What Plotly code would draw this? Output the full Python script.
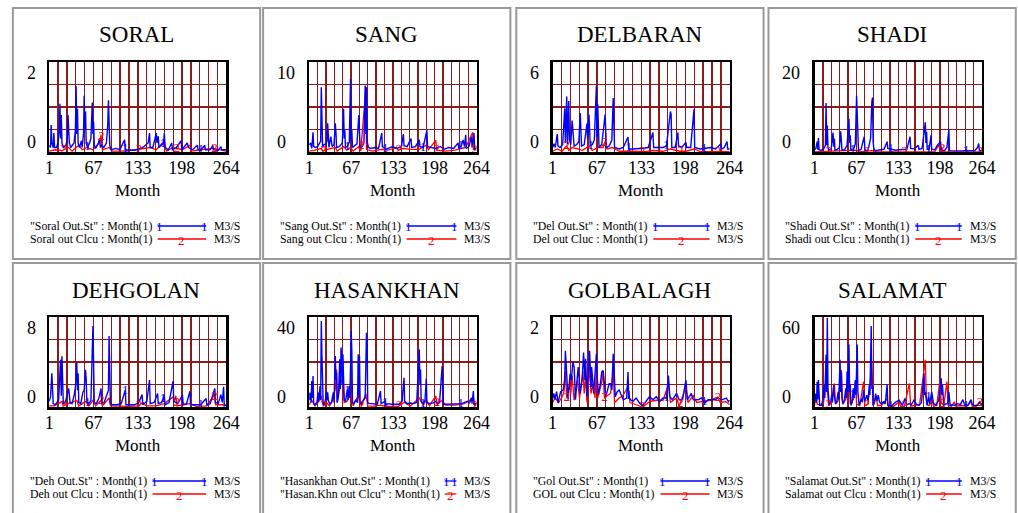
import numpy as np
import plotly.graph_objects as go

W, H = 1018, 513
FONT = "Liberation Serif"
BLUE = "#0000ff"
RED = "#ff0000"
GRID = "#8b1a1a"

# ---------------- data (month, value) ----------------
TITLES = ["SORAL", "SANG", "DELBARAN", "SHADI", "DEHGOLAN", "HASANKHAN", "GOLBALAGH", "SALAMAT"]
Y_MAX = [2, 10, 6, 20, 8, 40, 2, 60]
X_TICKS = [1, 67, 133, 198, 264]
UNITS = "M3/S"
LEGEND_OUT = ['"Soral Out.St" : Month(1)', '"Sang Out.St" : Month(1)', '"Del Out.St" : Month(1)',
              '"Shadi Out.St" : Month(1)', '"Deh Out.St" : Month(1)', '"Hasankhan Out.St" : Month(1)',
              '"Gol Out.St" : Month(1)', '"Salamat Out.St" : Month(1)']
LEGEND_CLC = ['Soral out Clcu : Month(1)', 'Sang out Clcu : Month(1)', 'Del out Cluc : Month(1)',
              'Shadi out Clcu : Month(1)', 'Deh out Clcu : Month(1)', '"Hasan.Khn out Clcu" : Month(1)',
              'GOL out Clcu : Month(1)', 'Salamat out Clcu : Month(1)']

SORAL_OUT = [(1,0.15),(3,0.1),(4,0.6),(5,0.2),(7,0.1),(8,0.42),(9,0.1),(12,0.1),(14,0.2),(16,0.45),(17,1.07),(18,0.3),(19,0.82),(20,0.2),(22,0.1),(26,0.15),(28,0.3),(29,0.82),(30,0.49),(31,0.2),(33,0.1),(38,0.2),(40,0.5),(41,1.47),(42,0.4),(43,0.96),(44,0.2),(46,0.1),(49,0.25),(50,0.1),(52,0.4),(53,1.25),(54,0.5),(55,0.9),(56,0.2),(58,0.1),(61,0.2),(63,0.3),(65,1.1),(66,0.4),(67,0.67),(68,0.15),(70,0.08),(74,0.2),(76,0.3),(77,0.1),(79,0.15),(82,0.1),(86,0.2),(88,0.6),(89,1.15),(90,0.4),(91,0.15),(93,0.05),(100,0.08),(106,0.05),(113,0.27),(114,0.05),(120,0.05),(127,0.04),(133,0.06),(140,0.1),(148,0.2),(150,0.42),(151,0.1),(155,0.1),(160,0.42),(161,0.2),(163,0.35),(164,0.1),(171,0.2),(172,0.42),(173,0.1),(178,0.05),(183,0.2),(184,0.05),(190,0.1),(197,0.25),(198,0.05),(206,0.2),(208,0.1),(214,0.05),(221,0.15),(222,0.05),(226,0.04),(232,0.15),(233,0.05),(240,0.05),(244,0.15),(245,0.05),(252,0.04),(256,0.12),(257,0.05),(264,0.05)]
SORAL_CLC = [(1,0.02),(10,0.05),(20,0.03),(30,0.1),(35,0.02),(45,0.15),(50,0.05),(57,0.1),(66,0.05),(76,0.2),(78,0.38),(80,0.05),(90,0.1),(95,0.02),(110,0.02),(130,0.05),(150,0.1),(160,0.05),(172,0.25),(175,0.02),(185,0.1),(199,0.05),(210,0.15),(212,0.02),(225,0.05),(245,0.08),(264,0.02)]

SANG_OUT = [(1,0.8),(3,1.0),(5,0.4),(7,2.2),(8,0.6),(11,0.5),(14,0.6),(19,1.2),(20,7.2),(21,3.9),(22,0.5),(24,0.8),(27,0.9),(29,1.2),(30,3.2),(31,1.9),(32,0.5),(35,1.7),(37,0.6),(40,0.8),(42,3.2),(43,2.2),(44,0.5),(48,0.6),(51,0.8),(53,1.0),(55,4.8),(56,1.5),(57,2.4),(58,0.5),(61,0.6),(64,1.1),(66,8.1),(67,1.2),(68,2.4),(69,0.5),(73,0.7),(76,0.9),(79,4.1),(80,2.4),(81,0.5),(84,0.6),(87,1.0),(89,7.4),(90,2.0),(91,7.2),(92,1.2),(94,0.5),(98,0.4),(104,0.5),(110,0.4),(115,2.1),(116,0.6),(121,0.3),(127,0.5),(132,0.6),(138,0.4),(146,0.6),(149,2.0),(150,0.7),(155,0.6),(161,1.5),(162,0.5),(168,0.6),(174,1.35),(175,0.6),(180,0.5),(186,2.4),(187,0.6),(193,0.5),(200,0.4),(207,0.6),(213,0.3),(220,0.5),(228,0.4),(235,1.0),(236,0.4),(240,0.7),(243,1.35),(245,0.6),(247,1.9),(248,0.4),(252,0.6),(256,1.7),(257,0.5),(260,2.1),(261,0.3),(264,0.4)]
SANG_CLC = [(1,0.1),(10,0.2),(20,0.4),(22,0.1),(30,0.3),(42,0.5),(45,0.1),(55,0.6),(60,0.2),(66,0.5),(70,0.1),(79,0.6),(82,0.1),(90,7.0),(91,0.3),(100,0.1),(115,0.3),(125,0.2),(138,0.5),(141,0.2),(149,0.4),(160,0.3),(174,0.3),(186,0.8),(188,0.2),(200,1.3),(201,0.2),(215,0.1),(230,0.2),(247,0.5),(258,2.2),(259,0.3),(264,0.2)]

DEL_OUT = [(1,0.3),(3,0.55),(5,0.3),(8,1.2),(9,0.4),(12,0.3),(16,0.5),(19,2.9),(20,0.6),(22,3.7),(23,0.5),(25,3.4),(26,0.8),(28,0.5),(30,2.1),(31,1.3),(33,0.4),(37,0.5),(40,0.7),(42,2.6),(43,1.4),(44,0.4),(48,0.5),(52,1.9),(53,0.9),(55,2.5),(56,1.5),(57,0.4),(60,0.5),(63,0.8),(66,4.4),(67,1.0),(68,3.2),(69,0.6),(70,0.3),(74,0.5),(79,2.5),(80,1.3),(81,0.3),(85,0.4),(89,0.8),(91,3.6),(92,0.9),(93,0.3),(100,0.2),(106,0.3),(113,1.0),(114,0.2),(120,0.2),(128,0.2),(135,0.25),(143,0.3),(150,1.3),(151,0.3),(158,0.3),(165,0.3),(170,0.4),(176,2.7),(177,2.5),(178,0.3),(183,0.3),(187,1.3),(188,0.4),(193,0.3),(199,0.65),(200,0.3),(206,0.3),(211,2.85),(212,0.3),(220,0.2),(228,0.25),(236,0.3),(243,0.2),(251,0.55),(252,0.2),(256,0.3),(260,0.7),(261,0.2),(264,0.2)]
DEL_CLC = [(1,0.05),(8,0.2),(15,0.05),(22,0.4),(25,0.1),(30,0.3),(40,0.2),(45,0.1),(55,0.4),(60,0.1),(68,0.3),(76,0.3),(79,0.7),(82,0.2),(90,0.3),(100,0.05),(120,0.05),(140,0.03),(150,0.1),(165,0.05),(176,0.2),(190,0.05),(199,0.05),(211,0.2),(220,0.03),(240,0.05),(258,0.05),(264,0.03)]

SHADI_OUT = [(1,0.5),(3,0.8),(5,2.3),(6,0.5),(7,3.1),(8,0.5),(11,0.4),(15,0.6),(18,1.5),(19,10.9),(20,1.5),(21,5.9),(22,1.0),(23,0.4),(27,0.6),(30,4.3),(31,1.2),(32,3.0),(33,0.4),(37,0.6),(40,1.0),(42,4.6),(43,2.6),(44,0.4),(48,0.5),(52,1.5),(55,7.4),(56,2.0),(57,3.7),(58,0.4),(62,0.5),(65,1.8),(67,12.5),(68,7.4),(69,0.8),(70,0.3),(74,0.6),(79,3.4),(80,0.8),(81,0.3),(85,0.4),(89,3.0),(91,11.2),(92,12.1),(93,2.3),(94,0.8),(96,0.3),(103,0.4),(110,0.6),(115,2.3),(116,0.8),(122,0.6),(128,0.4),(134,0.5),(140,0.5),(146,0.6),(151,3.4),(152,0.8),(158,0.7),(164,1.5),(165,0.6),(170,0.8),(175,6.6),(176,2.0),(177,4.5),(178,0.6),(181,0.5),(184,3.7),(185,0.6),(190,0.5),(194,1.5),(199,2.3),(200,0.4),(205,0.3),(209,1.0),(212,5.0),(213,0.3),(220,0.25),(230,0.25),(240,0.3),(247,0.3),(253,0.3),(257,1.0),(259,1.9),(260,0.3),(264,0.3)]
SHADI_CLC = [(1,0.05),(10,0.1),(20,0.2),(22,0.05),(30,0.2),(42,0.2),(55,0.3),(67,0.4),(70,0.05),(81,0.1),(91,0.3),(100,0.05),(120,0.05),(140,0.05),(160,0.05),(175,0.2),(190,0.1),(196,1.5),(199,0.3),(201,1.0),(203,0.05),(215,0.05),(240,0.05),(258,0.05),(264,0.05)]

DEH_OUT = [(1,0.5),(3,0.9),(5,3.0),(6,2.1),(7,0.3),(10,0.2),(15,0.6),(18,4.2),(19,1.0),(20,4.5),(21,1.0),(22,0.3),(25,0.4),(28,1.2),(30,1.65),(32,0.4),(35,0.3),(38,1.0),(40,1.8),(42,3.9),(43,1.5),(44,3.0),(45,0.4),(48,0.3),(51,1.3),(53,1.5),(55,3.3),(56,2.4),(57,0.4),(60,0.3),(63,0.6),(66,7.2),(67,4.0),(68,0.4),(71,0.3),(75,0.8),(78,1.65),(79,0.4),(82,0.3),(86,0.9),(89,1.5),(90,6.3),(91,3.1),(92,0.3),(95,0.2),(102,0.2),(108,0.3),(114,1.5),(115,0.2),(121,0.2),(128,0.2),(134,0.4),(139,1.1),(140,0.2),(146,0.5),(150,2.4),(151,0.3),(157,0.4),(162,1.2),(163,0.3),(168,0.4),(172,1.05),(173,0.2),(179,0.4),(185,2.3),(186,0.5),(192,0.3),(199,1.05),(200,0.2),(205,0.3),(210,1.4),(211,0.2),(218,0.2),(226,0.2),(234,0.75),(235,0.2),(240,0.3),(247,1.65),(248,0.4),(252,0.3),(256,1.1),(258,0.4),(260,1.8),(261,0.1),(264,0.2)]
DEH_CLC = [(1,0.1),(8,0.1),(15,0.3),(20,0.5),(22,0.1),(30,0.3),(42,0.6),(45,0.1),(55,0.5),(60,0.1),(66,0.6),(70,0.1),(78,0.6),(80,0.1),(90,0.8),(92,0.1),(105,0.05),(120,0.05),(134,0.1),(140,0.4),(145,0.1),(160,0.1),(172,0.3),(185,0.9),(187,0.5),(189,1.0),(191,0.1),(199,0.2),(210,0.3),(220,0.05),(235,0.1),(244,0.9),(246,1.2),(248,0.2),(258,0.2),(264,0.1)]

HASAN_OUT = [(1,3.0),(2,6.4),(4,2.0),(5,11.6),(6,4.0),(7,13.8),(8,1.5),(10,1.0),(13,2.0),(15,6.4),(16,2.5),(18,9.3),(19,3.0),(20,38.2),(21,22.7),(22,3.0),(23,1.0),(26,2.0),(28,7.1),(29,3.0),(30,6.5),(31,3.0),(33,1.5),(36,2.0),(39,6.5),(40,2.0),(42,22.7),(43,12.0),(44,15.3),(45,2.0),(47,5.0),(49,21.2),(50,8.0),(51,26.4),(52,22.7),(53,10.0),(54,23.4),(55,13.0),(56,3.0),(58,2.5),(61,7.9),(62,3.0),(64,9.3),(65,4.0),(67,33.8),(68,24.9),(69,2.0),(71,1.5),(74,3.0),(77,2.0),(78,23.4),(79,5.0),(80,22.7),(81,2.0),(83,1.5),(86,3.0),(89,4.0),(91,33.0),(92,28.6),(93,2.0),(95,1.5),(98,1.5),(103,1.5),(108,1.2),(113,7.1),(114,1.5),(120,2.5),(122,1.0),(125,1.5),(130,1.2),(136,1.2),(142,1.2),(147,2.5),(150,13.0),(151,2.5),(155,1.5),(160,1.8),(165,1.5),(170,2.0),(174,25.6),(175,10.0),(176,16.7),(177,2.5),(180,1.5),(183,3.0),(185,12.6),(186,2.0),(190,1.5),(196,1.8),(200,2.5),(203,1.5),(206,2.5),(210,18.2),(211,5.0),(212,1.2),(218,1.2),(225,1.2),(230,1.2),(236,1.5),(241,1.5),(246,2.2),(250,2.5),(253,1.8),(256,4.1),(257,1.5),(259,7.1),(260,1.2),(264,1.5)]
HASAN_CLC = [(1,1.0),(5,3.0),(10,0.5),(15,2.0),(20,5.0),(23,0.5),(28,2.0),(33,0.5),(38,3.0),(42,8.0),(44,16.7),(45,2.0),(50,10.0),(54,13.0),(56,2.0),(60,2.5),(67,6.0),(70,0.5),(78,5.0),(83,0.3),(90,6.0),(93,0.5),(100,0.3),(113,0.8),(120,0.3),(141,0.3),(150,2.0),(160,0.5),(174,4.0),(180,0.8),(185,3.0),(190,0.6),(200,4.9),(202,1.0),(210,3.0),(215,0.8),(230,0.8),(245,1.5),(259,4.0),(261,0.5),(264,0.8)]

GOL_OUT = [(1,0.2),(3,0.3),(4,0.16),(7,0.34),(9,0.09),(13,0.34),(17,0.38),(19,0.63),(20,1.25),(22,0.52),(24,0.16),(27,0.74),(29,0.6),(31,1.0),(33,0.89),(35,0.16),(37,0.63),(39,0.89),(40,0.7),(42,0.3),(45,0.63),(47,1.21),(49,0.6),(50,1.07),(52,0.23),(54,0.7),(56,1.25),(58,0.45),(59,0.89),(62,0.3),(64,0.67),(66,1.18),(67,0.74),(69,0.27),(72,0.52),(74,0.78),(76,0.81),(78,0.45),(80,0.23),(85,0.52),(87,0.52),(89,0.38),(91,1.18),(93,0.6),(94,0.23),(97,0.34),(100,0.38),(102,0.3),(106,0.16),(111,0.2),(113,0.78),(114,0.2),(120,0.12),(125,0.2),(130,0.09),(135,0.03),(140,0.12),(145,0.23),(150,0.16),(155,0.23),(160,0.12),(165,0.2),(170,0.2),(173,0.7),(175,0.23),(179,0.16),(185,0.3),(189,0.16),(194,0.16),(199,0.6),(201,0.16),(207,0.3),(210,0.16),(217,0.16),(222,0.2),(227,0.09),(232,0.16),(237,0.16),(242,0.16),(247,0.2),(252,0.16),(259,0.2),(262,0.12),(264,0.15)]
GOL_CLC = [(1,0.1),(5,0.2),(10,0.1),(16,0.25),(18,0.35),(20,0.8),(22,0.2),(26,0.5),(28,0.3),(30,0.7),(33,0.15),(38,0.6),(41,0.2),(46,0.8),(48,0.3),(50,0.7),(52,0.1),(56,0.9),(58,0.3),(61,0.5),(64,0.2),(66,0.85),(68,0.2),(74,0.55),(76,0.78),(78,0.2),(82,0.25),(87,0.3),(91,0.8),(93,0.1),(100,0.2),(105,0.25),(113,0.45),(116,0.1),(125,0.05),(135,0.0),(145,0.12),(155,0.15),(165,0.15),(173,0.5),(176,0.1),(185,0.2),(189,0.02),(199,0.45),(202,0.1),(210,0.25),(215,0.1),(225,0.12),(235,0.15),(246,0.22),(250,0.1),(258,0.12),(264,0.05)]

SALAMAT_OUT = [(1,3.0),(2,9.0),(4,3.0),(5,16.9),(6,5.0),(7,18.0),(9,1.1),(12,1.1),(14,5.0),(16,14.6),(17,6.0),(19,34.8),(20,10.0),(21,59.5),(22,12.4),(24,1.1),(26,3.0),(28,7.9),(29,3.0),(31,14.6),(32,7.9),(34,2.0),(36,4.0),(38,10.1),(39,5.0),(41,31.5),(42,10.0),(43,23.6),(44,5.6),(46,2.0),(48,5.0),(50,12.4),(51,6.0),(52,23.6),(53,10.0),(55,41.6),(56,10.0),(57,14.6),(58,1.1),(60,3.0),(62,12.4),(63,6.0),(65,18.0),(66,8.0),(68,41.6),(69,10.1),(71,1.1),(73,3.0),(75,5.6),(76,3.0),(78,11.2),(80,3.4),(83,7.9),(85,4.0),(87,14.6),(88,8.0),(90,54.0),(91,12.0),(92,14.6),(93,1.1),(95,3.0),(97,9.0),(99,4.0),(101,7.9),(103,3.4),(106,2.0),(109,3.4),(112,2.0),(115,15.0),(116,1.1),(121,0.5),(125,2.0),(129,3.4),(134,4.5),(139,1.1),(143,5.6),(146,1.5),(150,2.2),(153,1.5),(157,4.5),(161,2.0),(165,1.1),(169,3.0),(173,22.5),(174,8.0),(175,10.1),(178,1.1),(180,6.7),(182,2.0),(185,10.1),(188,2.2),(192,1.5),(196,4.5),(200,19.1),(201,8.0),(202,14.6),(204,1.1),(207,2.0),(210,2.2),(212,10.1),(214,1.1),(218,1.5),(221,1.1),(226,2.2),(230,1.5),(234,4.9),(237,1.1),(242,1.1),(247,4.9),(249,1.5),(252,1.1),(257,1.1),(261,3.4),(264,1.5)]
SALAMAT_CLC = [(1,1.0),(3,7.9),(5,2.0),(10,1.0),(15,3.0),(19,14.6),(21,12.0),(23,1.0),(27,3.0),(32,15.7),(34,2.0),(38,4.0),(43,24.7),(45,2.0),(50,5.0),(55,23.6),(57,2.0),(62,5.0),(65,16.9),(67,2.0),(72,1.0),(78,16.9),(80,1.0),(85,2.0),(91,29.2),(93,1.0),(98,6.7),(100,1.0),(106,1.0),(115,5.6),(117,0.5),(125,0.5),(134,3.4),(136,0.5),(142,0.5),(150,15.7),(152,0.5),(160,1.0),(166,1.5),(175,31.5),(177,2.0),(181,1.0),(186,4.5),(188,0.5),(193,1.0),(198,18.0),(200,3.0),(204,1.0),(209,16.9),(211,1.0),(216,0.5),(221,3.4),(223,0.5),(232,1.0),(240,0.5),(247,3.4),(249,0.5),(255,0.5),(260,3.4),(264,0.5)]

SERIES_OUT = [SORAL_OUT, SANG_OUT, DEL_OUT, SHADI_OUT, DEH_OUT, HASAN_OUT, GOL_OUT, SALAMAT_OUT]
SERIES_CLC = [SORAL_CLC, SANG_CLC, DEL_CLC, SHADI_CLC, DEH_CLC, HASAN_CLC, GOL_CLC, SALAMAT_CLC]

# ---------------- layout helpers ----------------
COL_LEFT = [8, 263, 521, 778]
ROW_TOP = [8, 263]
PANEL_W, PANEL_H = 252, 251
LEG_SIZE = 11.8

# Times / Liberation Serif advance widths (1/1000 em) for legend text width estimates
TW = {' ': 250, '"': 408, '(': 333, ')': 333, '.': 250, ':': 278, '1': 500, '3': 500, '/': 278,
      'A': 722, 'C': 667, 'D': 722, 'G': 722, 'H': 722, 'K': 722, 'L': 611, 'M': 889, 'O': 722, 'S': 556,
      'a': 444, 'c': 444, 'd': 500, 'e': 444, 'h': 500, 'i': 278, 'k': 500, 'l': 278, 'm': 778,
      'n': 500, 'o': 500, 'r': 333, 's': 389, 't': 278, 'u': 500}


def text_w(s, size):
    return sum(TW.get(c, 500) for c in s) * size / 1000.0


def px(x):
    return x / W


def py(y):
    return 1 - y / H


fig = go.Figure()
annotations = []
shapes = []
layout_axes = {}

for i in range(8):
    r, c = divmod(i, 4)
    L0, T0 = COL_LEFT[c], ROW_TOP[r]
    ymax = Y_MAX[i]
    lo = 37 if len(str(ymax)) == 1 else 47
    pl, pr = L0 + lo, L0 + 217.5
    pt, pb = T0 + 54, T0 + 144
    pw = pr - pl
    n = "" if i == 0 else str(i + 1)

    layout_axes["xaxis" + n] = dict(
        domain=[px(pl), px(pr)], range=[1, 264], anchor="y" + n,
        tickmode="array", tickvals=X_TICKS, ticktext=[str(t) for t in X_TICKS],
        ticks="", ticklabelstandoff=-2,
        tickfont=dict(family=FONT, size=18, color="black"),
        showgrid=True, gridcolor=GRID, gridwidth=1.3,
        minor=dict(tickmode="linear", tick0=1, dtick=263 / 20, showgrid=True,
                   gridcolor=GRID, gridwidth=1.3, ticks=""),
        showline=True, mirror=True, linecolor="black", linewidth=2.5,
        zeroline=False, fixedrange=True)
    layout_axes["yaxis" + n] = dict(
        domain=[py(pb), py(pt)], range=[0, ymax], anchor="x" + n,
        tickmode="linear", tick0=0, dtick=ymax / 4, showticklabels=False, ticks="",
        showgrid=True, gridcolor=GRID, gridwidth=1.3,
        showline=True, mirror=True, linecolor="black", linewidth=2.5,
        zeroline=False, fixedrange=True)

    bx = [m for m, v in SERIES_OUT[i]]
    by = [v for m, v in SERIES_OUT[i]]
    rx = [m for m, v in SERIES_CLC[i]]
    ry = [v for m, v in SERIES_CLC[i]]
    # red (calculated) underneath, blue (observed) on top
    fig.add_trace(go.Scatter(x=rx, y=ry, mode="lines", line=dict(color=RED, width=1.3),
                             xaxis="x" + n, yaxis="y" + n, hoverinfo="skip", showlegend=False))
    fig.add_trace(go.Scatter(x=bx, y=by, mode="lines", line=dict(color=BLUE, width=1.4),
                             xaxis="x" + n, yaxis="y" + n, hoverinfo="skip", showlegend=False))

    # Vensim-style line number markers, spaced along the plot width
    mb = [1 + (39 + 38.5 * k) / pw * 263 for k in range(4)]
    mr = [1 + (14.5 + 38.5 * k) / pw * 263 for k in range(5)]
    fig.add_trace(go.Scatter(x=mb, y=np.interp(mb, bx, by), mode="text", text=["1"] * len(mb),
                             textfont=dict(family=FONT, size=13, color=BLUE), cliponaxis=False,
                             xaxis="x" + n, yaxis="y" + n, hoverinfo="skip", showlegend=False))
    fig.add_trace(go.Scatter(x=mr, y=np.interp(mr, rx, ry), mode="text", text=["2"] * len(mr),
                             textfont=dict(family=FONT, size=13, color=RED), cliponaxis=False,
                             xaxis="x" + n, yaxis="y" + n, hoverinfo="skip", showlegend=False))

    # panel frame
    shapes.append(dict(type="rect", xref="paper", yref="paper",
                       x0=px(L0), x1=px(L0 + PANEL_W), y0=py(T0 + PANEL_H), y1=py(T0),
                       line=dict(color="#9a9a9a", width=2), layer="below"))

    # title
    annotations.append(dict(x=px(L0 + PANEL_W / 2), y=py(T0 + 27), xref="paper", yref="paper",
                            text=TITLES[i], showarrow=False, xanchor="center", yanchor="middle",
                            font=dict(family=FONT, size=23, color="black")))
    # y-axis end labels
    annotations.append(dict(x=px(L0 + 12), y=py(pt + 11), xref="paper", yref="paper",
                            text=str(ymax), showarrow=False, xanchor="left", yanchor="middle",
                            font=dict(family=FONT, size=18, color="black")))
    annotations.append(dict(x=px(L0 + 12), y=py(pb - 10.5), xref="paper", yref="paper",
                            text="0", showarrow=False, xanchor="left", yanchor="middle",
                            font=dict(family=FONT, size=18, color="black")))
    # x-axis title
    annotations.append(dict(x=px((pl + pr) / 2), y=py(T0 + 182), xref="paper", yref="paper",
                            text="Month", showarrow=False, xanchor="center", yanchor="middle",
                            font=dict(family=FONT, size=17, color="black")))

    # legend
    ly1, ly2 = T0 + 218, T0 + 231
    tw = max(text_w(LEGEND_OUT[i], LEG_SIZE), text_w(LEGEND_CLC[i], LEG_SIZE))
    ls = min(L0 + 17 + tw + 8, L0 + 187)
    le = L0 + 197
    for txt, yy in ((LEGEND_OUT[i], ly1), (LEGEND_CLC[i], ly2)):
        annotations.append(dict(x=px(L0 + 15), y=py(yy), xref="paper", yref="paper", text=txt,
                                showarrow=False, xanchor="left", yanchor="middle",
                                font=dict(family=FONT, size=LEG_SIZE, color="black")))
        annotations.append(dict(x=px(L0 + 203), y=py(yy), xref="paper", yref="paper", text=UNITS,
                                showarrow=False, xanchor="left", yanchor="middle",
                                font=dict(family=FONT, size=LEG_SIZE, color="black")))
    shapes.append(dict(type="line", xref="paper", yref="paper", x0=px(ls), x1=px(le),
                       y0=py(ly1), y1=py(ly1), line=dict(color=BLUE, width=1.3)))
    shapes.append(dict(type="line", xref="paper", yref="paper", x0=px(ls), x1=px(le),
                       y0=py(ly2), y1=py(ly2), line=dict(color=RED, width=1.3)))
    for xx in (ls + 2, le - 2):
        annotations.append(dict(x=px(xx), y=py(ly1), xref="paper", yref="paper", text="1",
                                showarrow=False, xanchor="center", yanchor="middle",
                                font=dict(family=FONT, size=13, color=BLUE)))
    annotations.append(dict(x=px((ls + le) / 2), y=py(ly2 + 1), xref="paper", yref="paper", text="2",
                            showarrow=False, xanchor="center", yanchor="middle",
                            font=dict(family=FONT, size=13, color=RED)))

fig.update_layout(
    width=W, height=H, autosize=False,
    margin=dict(l=0, r=0, t=0, b=0, pad=0),
    paper_bgcolor="white", plot_bgcolor="white",
    showlegend=False,
    annotations=annotations, shapes=shapes,
    **layout_axes)

fig.write_html("out.html", config={"displayModeBar": False, "staticPlot": True})
